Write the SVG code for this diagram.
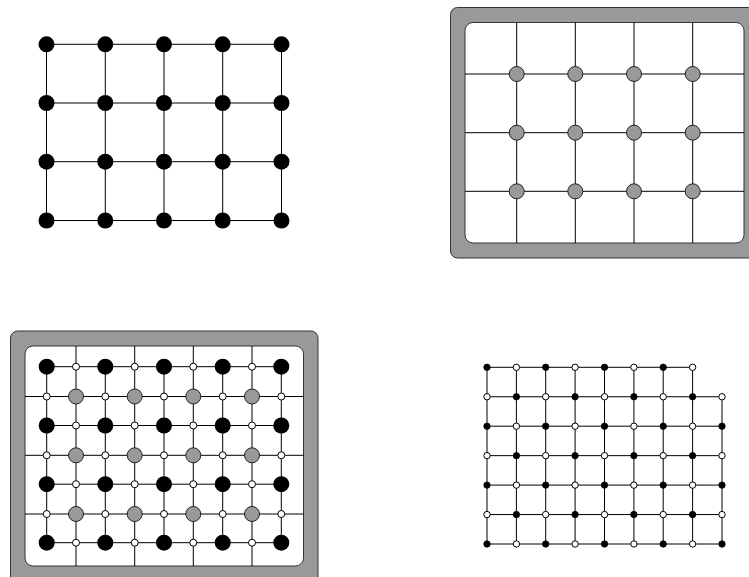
<svg xmlns="http://www.w3.org/2000/svg" xmlns:xlink="http://www.w3.org/1999/xlink" width="749" height="577" viewBox="0 0 749 577">
<style>
.e{stroke:#000;stroke-width:1;fill:none}
.frame{fill:#999;stroke:#333;stroke-width:1}
.inner{fill:#fff;stroke:#333;stroke-width:1}
</style>
<defs>
<circle id="blk" r="8" fill="#000"/>
<circle id="gry" r="7.5" fill="#999" stroke="#222" stroke-width="1"/>
<circle id="wht" r="3.5" fill="#fff" stroke="#000" stroke-width="1"/>
<circle id="sb" r="3.2" fill="#000" stroke="#000" stroke-width="0.8"/>
<circle id="sw" r="3.2" fill="#fff" stroke="#000" stroke-width="1"/>
</defs>
<rect width="749" height="577" fill="#fff"/>

<!-- frames -->
<g id="frame2">
<rect class="frame" x="450.5" y="7.5" width="305" height="250.5" rx="7"/>
<rect class="inner" x="465" y="22.5" width="279" height="220.5" rx="8"/>
</g>
<g id="frame3">
<rect class="frame" x="10.5" y="331" width="307.5" height="260" rx="7"/>
<rect class="inner" x="25" y="346" width="278.5" height="220" rx="8"/>
</g>

<g id="connectors">
<!-- panel 1 -->
<path class="e" d="M46.5 44.3H281.5M46.5 103H281.5M46.5 161.7H281.5M46.5 220.5H281.5M46.5 44.3V220.5M105.3 44.3V220.5M164 44.3V220.5M222.7 44.3V220.5M281.5 44.3V220.5"/>
<!-- panel 2 -->
<path class="e" d="M516.7 22.5V243M575.3 22.5V243M634 22.5V243M692.7 22.5V243M465 74H744M465 132.7H744M465 191.3H744"/>
<!-- panel 3 gray grid -->
<path class="e" d="M76 346V566M134.7 346V566M193.3 346V566M252 346V566M25 396.5H303.5M25 455.3H303.5M25 514H303.5"/>
<!-- panel 3 black grid -->
<path class="e" d="M46.7 366.7H281.3M46.7 425.5H281.3M46.7 484.2H281.3M46.7 542.7H281.3M46.7 366.7V542.7M105.3 366.7V542.7M164 366.7V542.7M222.7 366.7V542.7M281.3 366.7V542.7"/>
<!-- panel 4 -->
<path class="e" d="M487 367.3H692.6M487 396.75H722M487 426.2H722M487 455.65H722M487 485.1H722M487 514.55H722M487 544H722M487 367.3V544M516.4 367.3V544M545.7 367.3V544M575.1 367.3V544M604.5 367.3V544M633.9 367.3V544M663.2 367.3V544M692.6 367.3V544M722 396.75V544"/>
</g>

<g id="panel1">
<g id="a00"><use href="#blk" x="46.5" y="44.3"/></g><g id="a01"><use href="#blk" x="105.3" y="44.3"/></g><g id="a02"><use href="#blk" x="164" y="44.3"/></g><g id="a03"><use href="#blk" x="222.7" y="44.3"/></g><g id="a04"><use href="#blk" x="281.5" y="44.3"/></g>
<g id="a10"><use href="#blk" x="46.5" y="103"/></g><g id="a11"><use href="#blk" x="105.3" y="103"/></g><g id="a12"><use href="#blk" x="164" y="103"/></g><g id="a13"><use href="#blk" x="222.7" y="103"/></g><g id="a14"><use href="#blk" x="281.5" y="103"/></g>
<g id="a20"><use href="#blk" x="46.5" y="161.7"/></g><g id="a21"><use href="#blk" x="105.3" y="161.7"/></g><g id="a22"><use href="#blk" x="164" y="161.7"/></g><g id="a23"><use href="#blk" x="222.7" y="161.7"/></g><g id="a24"><use href="#blk" x="281.5" y="161.7"/></g>
<g id="a30"><use href="#blk" x="46.5" y="220.5"/></g><g id="a31"><use href="#blk" x="105.3" y="220.5"/></g><g id="a32"><use href="#blk" x="164" y="220.5"/></g><g id="a33"><use href="#blk" x="222.7" y="220.5"/></g><g id="a34"><use href="#blk" x="281.5" y="220.5"/></g>
</g>

<g id="panel2">
<g id="b00"><use href="#gry" x="516.7" y="74"/></g><g id="b01"><use href="#gry" x="575.3" y="74"/></g><g id="b02"><use href="#gry" x="634" y="74"/></g><g id="b03"><use href="#gry" x="692.7" y="74"/></g>
<g id="b10"><use href="#gry" x="516.7" y="132.7"/></g><g id="b11"><use href="#gry" x="575.3" y="132.7"/></g><g id="b12"><use href="#gry" x="634" y="132.7"/></g><g id="b13"><use href="#gry" x="692.7" y="132.7"/></g>
<g id="b20"><use href="#gry" x="516.7" y="191.3"/></g><g id="b21"><use href="#gry" x="575.3" y="191.3"/></g><g id="b22"><use href="#gry" x="634" y="191.3"/></g><g id="b23"><use href="#gry" x="692.7" y="191.3"/></g>
</g>

<g id="panel3">
<!-- black -->
<g id="c00"><use href="#blk" x="46.7" y="366.7"/></g><g id="c01"><use href="#blk" x="105.3" y="366.7"/></g><g id="c02"><use href="#blk" x="164" y="366.7"/></g><g id="c03"><use href="#blk" x="222.7" y="366.7"/></g><g id="c04"><use href="#blk" x="281.3" y="366.7"/></g>
<g id="c10"><use href="#blk" x="46.7" y="425.5"/></g><g id="c11"><use href="#blk" x="105.3" y="425.5"/></g><g id="c12"><use href="#blk" x="164" y="425.5"/></g><g id="c13"><use href="#blk" x="222.7" y="425.5"/></g><g id="c14"><use href="#blk" x="281.3" y="425.5"/></g>
<g id="c20"><use href="#blk" x="46.7" y="484.2"/></g><g id="c21"><use href="#blk" x="105.3" y="484.2"/></g><g id="c22"><use href="#blk" x="164" y="484.2"/></g><g id="c23"><use href="#blk" x="222.7" y="484.2"/></g><g id="c24"><use href="#blk" x="281.3" y="484.2"/></g>
<g id="c30"><use href="#blk" x="46.7" y="542.7"/></g><g id="c31"><use href="#blk" x="105.3" y="542.7"/></g><g id="c32"><use href="#blk" x="164" y="542.7"/></g><g id="c33"><use href="#blk" x="222.7" y="542.7"/></g><g id="c34"><use href="#blk" x="281.3" y="542.7"/></g>
<!-- gray -->
<g id="d00"><use href="#gry" x="76" y="396.5"/></g><g id="d01"><use href="#gry" x="134.7" y="396.5"/></g><g id="d02"><use href="#gry" x="193.3" y="396.5"/></g><g id="d03"><use href="#gry" x="252" y="396.5"/></g>
<g id="d10"><use href="#gry" x="76" y="455.3"/></g><g id="d11"><use href="#gry" x="134.7" y="455.3"/></g><g id="d12"><use href="#gry" x="193.3" y="455.3"/></g><g id="d13"><use href="#gry" x="252" y="455.3"/></g>
<g id="d20"><use href="#gry" x="76" y="514"/></g><g id="d21"><use href="#gry" x="134.7" y="514"/></g><g id="d22"><use href="#gry" x="193.3" y="514"/></g><g id="d23"><use href="#gry" x="252" y="514"/></g>
<!-- white on black rows -->
<g id="w00"><use href="#wht" x="76" y="366.7"/></g><g id="w01"><use href="#wht" x="134.7" y="366.7"/></g><g id="w02"><use href="#wht" x="193.3" y="366.7"/></g><g id="w03"><use href="#wht" x="252" y="366.7"/></g>
<g id="w10"><use href="#wht" x="76" y="425.5"/></g><g id="w11"><use href="#wht" x="134.7" y="425.5"/></g><g id="w12"><use href="#wht" x="193.3" y="425.5"/></g><g id="w13"><use href="#wht" x="252" y="425.5"/></g>
<g id="w20"><use href="#wht" x="76" y="484.2"/></g><g id="w21"><use href="#wht" x="134.7" y="484.2"/></g><g id="w22"><use href="#wht" x="193.3" y="484.2"/></g><g id="w23"><use href="#wht" x="252" y="484.2"/></g>
<g id="w30"><use href="#wht" x="76" y="542.7"/></g><g id="w31"><use href="#wht" x="134.7" y="542.7"/></g><g id="w32"><use href="#wht" x="193.3" y="542.7"/></g><g id="w33"><use href="#wht" x="252" y="542.7"/></g>
<!-- white on black columns -->
<g id="v00"><use href="#wht" x="46.7" y="396.5"/></g><g id="v01"><use href="#wht" x="105.3" y="396.5"/></g><g id="v02"><use href="#wht" x="164" y="396.5"/></g><g id="v03"><use href="#wht" x="222.7" y="396.5"/></g><g id="v04"><use href="#wht" x="281.3" y="396.5"/></g>
<g id="v10"><use href="#wht" x="46.7" y="455.3"/></g><g id="v11"><use href="#wht" x="105.3" y="455.3"/></g><g id="v12"><use href="#wht" x="164" y="455.3"/></g><g id="v13"><use href="#wht" x="222.7" y="455.3"/></g><g id="v14"><use href="#wht" x="281.3" y="455.3"/></g>
<g id="v20"><use href="#wht" x="46.7" y="514"/></g><g id="v21"><use href="#wht" x="105.3" y="514"/></g><g id="v22"><use href="#wht" x="164" y="514"/></g><g id="v23"><use href="#wht" x="222.7" y="514"/></g><g id="v24"><use href="#wht" x="281.3" y="514"/></g>
</g>

<g id="panel4">
<g id="e00"><use href="#sb" x="487" y="367.3"/></g><g id="e01"><use href="#sw" x="516.4" y="367.3"/></g><g id="e02"><use href="#sb" x="545.7" y="367.3"/></g><g id="e03"><use href="#sw" x="575.1" y="367.3"/></g><g id="e04"><use href="#sb" x="604.5" y="367.3"/></g><g id="e05"><use href="#sw" x="633.9" y="367.3"/></g><g id="e06"><use href="#sb" x="663.2" y="367.3"/></g><g id="e07"><use href="#sw" x="692.6" y="367.3"/></g>
<g id="e10"><use href="#sw" x="487" y="396.75"/></g><g id="e11"><use href="#sb" x="516.4" y="396.75"/></g><g id="e12"><use href="#sw" x="545.7" y="396.75"/></g><g id="e13"><use href="#sb" x="575.1" y="396.75"/></g><g id="e14"><use href="#sw" x="604.5" y="396.75"/></g><g id="e15"><use href="#sb" x="633.9" y="396.75"/></g><g id="e16"><use href="#sw" x="663.2" y="396.75"/></g><g id="e17"><use href="#sb" x="692.6" y="396.75"/></g><g id="e18"><use href="#sw" x="722" y="396.75"/></g>
<g id="e20"><use href="#sb" x="487" y="426.2"/></g><g id="e21"><use href="#sw" x="516.4" y="426.2"/></g><g id="e22"><use href="#sb" x="545.7" y="426.2"/></g><g id="e23"><use href="#sw" x="575.1" y="426.2"/></g><g id="e24"><use href="#sb" x="604.5" y="426.2"/></g><g id="e25"><use href="#sw" x="633.9" y="426.2"/></g><g id="e26"><use href="#sb" x="663.2" y="426.2"/></g><g id="e27"><use href="#sw" x="692.6" y="426.2"/></g><g id="e28"><use href="#sb" x="722" y="426.2"/></g>
<g id="e30"><use href="#sw" x="487" y="455.65"/></g><g id="e31"><use href="#sb" x="516.4" y="455.65"/></g><g id="e32"><use href="#sw" x="545.7" y="455.65"/></g><g id="e33"><use href="#sb" x="575.1" y="455.65"/></g><g id="e34"><use href="#sw" x="604.5" y="455.65"/></g><g id="e35"><use href="#sb" x="633.9" y="455.65"/></g><g id="e36"><use href="#sw" x="663.2" y="455.65"/></g><g id="e37"><use href="#sb" x="692.6" y="455.65"/></g><g id="e38"><use href="#sw" x="722" y="455.65"/></g>
<g id="e40"><use href="#sb" x="487" y="485.1"/></g><g id="e41"><use href="#sw" x="516.4" y="485.1"/></g><g id="e42"><use href="#sb" x="545.7" y="485.1"/></g><g id="e43"><use href="#sw" x="575.1" y="485.1"/></g><g id="e44"><use href="#sb" x="604.5" y="485.1"/></g><g id="e45"><use href="#sw" x="633.9" y="485.1"/></g><g id="e46"><use href="#sb" x="663.2" y="485.1"/></g><g id="e47"><use href="#sw" x="692.6" y="485.1"/></g><g id="e48"><use href="#sb" x="722" y="485.1"/></g>
<g id="e50"><use href="#sw" x="487" y="514.55"/></g><g id="e51"><use href="#sb" x="516.4" y="514.55"/></g><g id="e52"><use href="#sw" x="545.7" y="514.55"/></g><g id="e53"><use href="#sb" x="575.1" y="514.55"/></g><g id="e54"><use href="#sw" x="604.5" y="514.55"/></g><g id="e55"><use href="#sb" x="633.9" y="514.55"/></g><g id="e56"><use href="#sw" x="663.2" y="514.55"/></g><g id="e57"><use href="#sb" x="692.6" y="514.55"/></g><g id="e58"><use href="#sw" x="722" y="514.55"/></g>
<g id="e60"><use href="#sb" x="487" y="544"/></g><g id="e61"><use href="#sw" x="516.4" y="544"/></g><g id="e62"><use href="#sb" x="545.7" y="544"/></g><g id="e63"><use href="#sw" x="575.1" y="544"/></g><g id="e64"><use href="#sb" x="604.5" y="544"/></g><g id="e65"><use href="#sw" x="633.9" y="544"/></g><g id="e66"><use href="#sb" x="663.2" y="544"/></g><g id="e67"><use href="#sw" x="692.6" y="544"/></g><g id="e68"><use href="#sb" x="722" y="544"/></g>
</g>
</svg>
